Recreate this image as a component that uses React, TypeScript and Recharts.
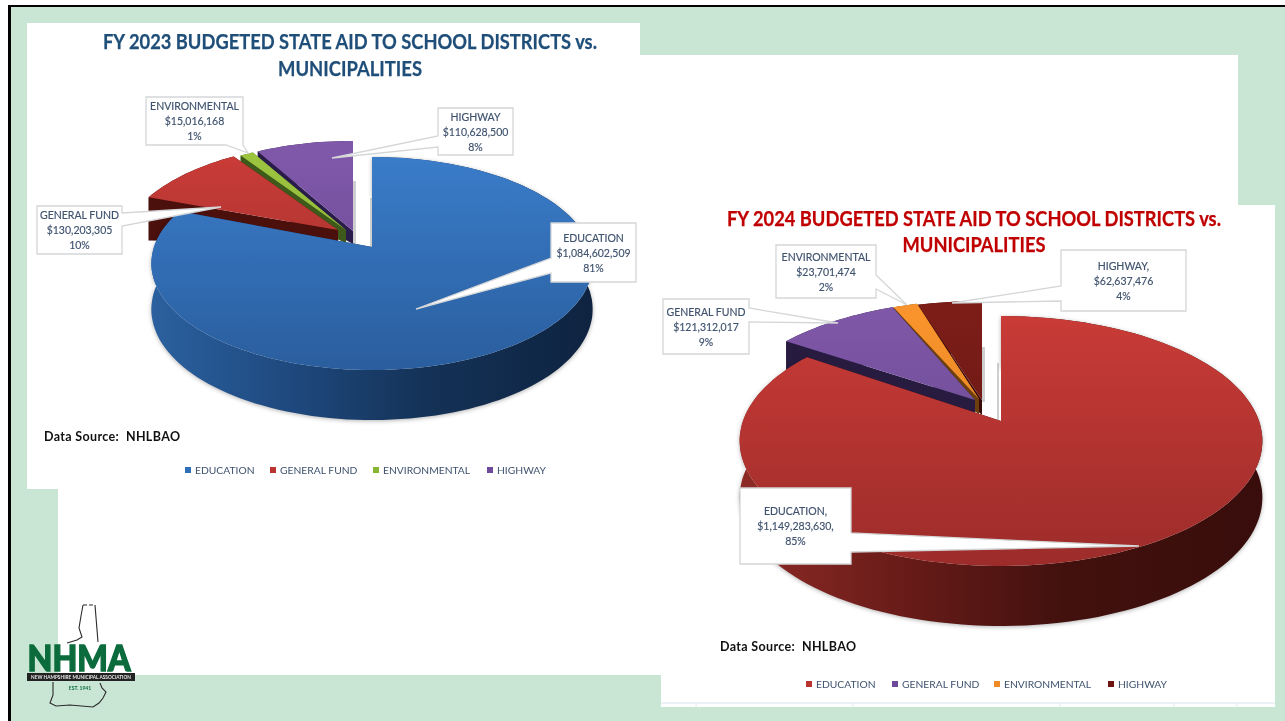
import React from "react";
import { PieChart, Pie, Legend } from "recharts";

const categories = ["EDUCATION", "GENERAL FUND", "ENVIRONMENTAL", "HIGHWAY"];
const values2023 = [1084602509, 130203305, 15016168, 110628500];
const values2024 = [1149283630, 121312017, 23701474, 62637476];
const nameLabels2023 = ["EDUCATION", "GENERAL FUND", "ENVIRONMENTAL", "HIGHWAY"];
const nameLabels2024 = ["EDUCATION,", "GENERAL FUND", "ENVIRONMENTAL", "HIGHWAY,"];
const valueLabels2023 = ["$1,084,602,509", "$130,203,305", "$15,016,168", "$110,628,500"];
const valueLabels2024 = ["$1,149,283,630,", "$121,312,017", "$23,701,474", "$62,637,476"];
const percentLabels2023 = ["81%", "10%", "1%", "8%"];
const percentLabels2024 = ["85%", "9%", "2%", "4%"];
const legendColors2023 = ["#2e6fb7", "#bb3330", "#8ab436", "#6f4a9a"];
const legendColors2024 = ["#bb3330", "#6f4a9a", "#f08a24", "#6e1512"];

type Style = { top: [string, string]; face: string };
const styles2023: Style[] = [
  { top: ["#3a7cc9", "#2a5e9e"], face: "#10294a" },
  { top: ["#c93b37", "#96302c"], face: "#4b0f0c" },
  { top: ["#9cc43f", "#86ad35"], face: "#3d5a1a" },
  { top: ["#8058aa", "#62458a"], face: "#2a1c4a" },
];
const styles2024: Style[] = [
  { top: ["#c93b37", "#9c2c2a"], face: "#3a0c0a" },
  { top: ["#7f57a8", "#5f4488"], face: "#281b40" },
  { top: ["#f9942c", "#d67a20"], face: "#6e3f0e" },
  { top: ["#7c1d18", "#611512"], face: "#3a0a08" },
];

const chart2023 = {
  id: "a", origin: [27, 23], size: [613, 466], apex: [372, 247], radius: 218,
  aspect: 0.477, k: 0.155, d0: 45, d1: 5, dApex: 13,
  offsets: [[0, 0], [-31, -14], [-24, -15], [-19, -16]],
  apexAdj: [[0, 0], [-3, -3], [-2, -2], [0, 0]],
  styles: styles2023,
  wall: ["#2b619f", "#1f4a80", "#143257", "#0e2340"],
  names: nameLabels2023, valueText: valueLabels2023, pct: percentLabels2023,
  colors: legendColors2023, values: values2023,
  strips: [[3, 353, 181, 3, 64], [0, 370, 198, 2, 50]],
  boxes: [
    { x: 551, y: 223, w: 85, h: 59, tip: [416, 309], side: "left", a: 258, b: 273 },
    { x: 37, y: 206, w: 85, h: 48, tip: [221, 207], side: "right", a: 213, b: 226 },
    { x: 146, y: 97, w: 97, h: 48, tip: [248, 153], side: "bottom", a: 226, b: 243 },
    { x: 438, y: 108, w: 75, h: 47, tip: [332, 158], side: "left", a: 136, b: 147 },
  ],
  legendX: [185, 270, 373, 487], legendY: 470,
};
const chart2024 = {
  id: "b", origin: [661, 205], size: [614, 502], apex: [1001, 421], radius: 258,
  aspect: 0.472, k: 0.16, d0: 56, d1: 4, dApex: 15,
  offsets: [[0, 0], [-21, -16], [-20, -16], [-19, -15]],
  apexAdj: [[0, 0], [-5, -5], [-2, -6], [0, -6]],
  styles: styles2024,
  wall: ["#8f2b27", "#6a1c19", "#42110e", "#380d0b"],
  names: nameLabels2024, valueText: valueLabels2024, pct: percentLabels2024,
  colors: legendColors2024, values: values2024,
  strips: [[3, 982, 347, 3, 55], [0, 997, 363, 2, 58]],
  boxes: [
    { x: 740, y: 488, w: 111, h: 76, tip: [1139, 546], side: "right", a: 533, b: 552 },
    { x: 663, y: 299, w: 86, h: 55, tip: [838, 323], side: "right", a: 308, b: 322 },
    { x: 776, y: 245, w: 100, h: 53, tip: [907, 305], side: "right", a: 275, b: 289 },
    { x: 1061, y: 250, w: 125, h: 61, tip: [952, 303], side: "left", a: 286, b: 301 },
  ],
  legendX: [806, 892, 994, 1108], legendY: 684,
};
type Cfg = typeof chart2023;

const FONT = "Lato, 'Open Sans', sans-serif";
const LABEL = "#3f526e";

const calloutPath = (b: Cfg["boxes"][number]) => {
  const { x, y, w, h, tip, side, a } = b;
  const R = x + w, B = y + h;
  const t = `${tip[0]},${tip[1]}`;
  let s = `M${x},${y} L${R},${y} `;
  if (side === "right") s += `L${R},${a} L${t} L${R},${b.b} `;
  s += `L${R},${B} `;
  if (side === "bottom") s += `L${b.b},${B} L${t} L${a},${B} `;
  s += `L${x},${B} `;
  if (side === "left") s += `L${x},${b.b} L${t} L${x},${a} `;
  return s + "Z";
};

const makeShape = (cfg: Cfg) => (props: any) => {
  const { cx, cy, outerRadius, startAngle, endAngle } = props;
  const i = categories.indexOf(props.name ?? props.payload?.name);
  const [ox, oy] = cfg.offsets[i];
  const st = cfg.styles[i];
  const ax = cx + ox, ay = cy + oy;
  const pt = (angle: number, deep: boolean) => {
    const th = ((90 - angle) * Math.PI) / 180;
    const u = Math.sin(th), v = Math.cos(th);
    const den = 1 + cfg.k * v;
    const x = ax + (outerRadius * u) / den;
    const y = ay - (outerRadius * cfg.aspect * v) / den;
    return [x, deep ? y + cfg.d0 - cfg.d1 * v : y];
  };
  const n = Math.max(2, Math.ceil(Math.abs(endAngle - startAngle) / 2));
  const angles = Array.from({ length: n + 1 }, (_, k) => startAngle + ((endAngle - startAngle) * k) / n);
  const top = angles.map((a) => pt(a, false));
  const low = angles.map((a) => pt(a, true));
  const P = (arr: number[][]) => arr.map((p) => p.map((c) => c.toFixed(1)).join(",")).join(" ");
  const apexTop = [ax + cfg.apexAdj[i][0], ay + cfg.apexAdj[i][1]];
  const apexLow = [apexTop[0], apexTop[1] + cfg.dApex];
  const yTop = cy - outerRadius * cfg.aspect / (1 + cfg.k);
  const yBot = cy + outerRadius * cfg.aspect / (1 - cfg.k);
  const topId = `top-${cfg.id}-${i}`;
  const wallId = `wall-${cfg.id}-${i}`;
  const xL = cx - outerRadius * 1.02, xR = cx + outerRadius * 1.02;
  const [ox0, oy0] = cfg.origin;
  return (
    <g>
      <defs>
        <linearGradient id={topId} gradientUnits="userSpaceOnUse" x1="0" x2="0" y1={yTop} y2={yBot}>
          <stop offset="0" stopColor={st.top[0]} />
          <stop offset="1" stopColor={st.top[1]} />
        </linearGradient>
        <linearGradient id={wallId} gradientUnits="userSpaceOnUse" x1={xL} x2={xR} y1="0" y2="0">
          <stop offset="0" stopColor={cfg.wall[0]} />
          <stop offset="0.3" stopColor={cfg.wall[1]} />
          <stop offset="0.62" stopColor={cfg.wall[2]} />
          <stop offset="1" stopColor={cfg.wall[3]} />
        </linearGradient>
      </defs>
      {cfg.strips.filter((s) => s[0] === i).map((s, k) => (
        <rect key={k} x={s[1] - ox0} y={s[2] - oy0} width={s[3]} height={s[4]} fill="#cfcfcf" />
      ))}
      <polygon points={P([apexTop, top[0], low[0], apexLow])} fill={st.face} />
      <polygon points={P([apexTop, top[n], low[n], apexLow])} fill={st.face} />
      <polygon
        points={P([...top, ...low.slice().reverse()])}
        fill={i === 0 ? `url(#${wallId})` : st.face}
        style={i === 0 ? { filter: "drop-shadow(0 1px 2px rgba(0,0,0,.3))" } : undefined}
      />
      <polygon points={P([apexTop, ...top])} fill={`url(#${topId})`} />
    </g>
  );
};

const makeLabel = (cfg: Cfg, rows: any[]) => (props: any) => {
  const row = rows[props.index];
  const i = categories.indexOf(row.name);
  const b = cfg.boxes[i];
  const [ox, oy] = cfg.origin;
  const mx = b.x + b.w / 2, my = b.y + b.h / 2;
  const lines = [cfg.names[i], cfg.valueText[i], cfg.pct[i]];
  return (
    <g transform={`translate(${-ox},${-oy})`}>
      <path d={calloutPath(b)} fill="#fff" stroke="#d4d6d8" strokeWidth={1.3} />
      {lines.map((t, k) => (
        <text key={k} x={mx} y={my + (k - 1) * 15} textAnchor="middle" dominantBaseline="central"
          fontFamily={FONT} fontSize={10.5} fill={LABEL} stroke={LABEL} strokeWidth={0.15}>{t}</text>
      ))}
    </g>
  );
};

const makeLegend = (cfg: Cfg) => (props: any) => {
  const items = categories.map((c) => (props.payload || []).find((p: any) => p.value === c) || { value: c });
  return (
    <div style={{ position: "relative", width: cfg.size[0], height: 14 }}>
      {items.map((it: any, i: number) => (
        <div key={it.value} style={{ position: "absolute", left: cfg.legendX[i] - cfg.origin[0], top: 0, display: "flex", alignItems: "center", height: 14, whiteSpace: "nowrap" }}>
          <span style={{ width: 6, height: 6, background: cfg.colors[i], marginRight: 4 }} />
          <span style={{ font: `10.3px ${FONT}`, color: LABEL }}>{it.value}</span>
        </div>
      ))}
    </div>
  );
};

const ChartPanel = ({ cfg }: { cfg: Cfg }) => {
  const rows = categories.map((name, i) => ({ name, value: cfg.values[i], fill: cfg.colors[i] })).reverse();
  const [ox, oy] = cfg.origin;
  return (
    <div style={{ position: "absolute", left: ox, top: oy }}>
      <PieChart width={cfg.size[0]} height={cfg.size[1]} margin={{ top: 0, right: 0, bottom: 0, left: 0 }}>
        <Pie
          data={rows} dataKey="value" nameKey="name"
          cx={cfg.apex[0] - ox} cy={cfg.apex[1] - oy}
          outerRadius={cfg.radius} innerRadius={0}
          startAngle={90} endAngle={450}
          stroke="none" isAnimationActive={false}
          shape={makeShape(cfg)} label={makeLabel(cfg, rows)} labelLine={false}
        />
        <Legend content={makeLegend(cfg)} itemSorter={null as any}
          wrapperStyle={{ position: "absolute", left: 0, top: cfg.legendY - oy - 7, width: cfg.size[0], height: 14, bottom: "auto" }} />
      </PieChart>
    </div>
  );
};

const Rect = ({ x, y, w, h, c }: any) => (
  <div style={{ position: "absolute", left: x, top: y, width: w, height: h, background: c }} />
);

const gridTicks = [696, 853, 1060, 1174, 1237];

const Overlay = () => (
  <svg width={1285} height={721} style={{ position: "absolute", left: 0, top: 0, pointerEvents: "none" }}>
    <g fontFamily={FONT} fontWeight={700} fontSize={21} textAnchor="middle" strokeWidth={0.25}>
      <text x={350} y={49} fill="#1f4e79" stroke="#1f4e79" textLength={494} lengthAdjust="spacingAndGlyphs">FY 2023 BUDGETED STATE AID TO SCHOOL DISTRICTS vs.</text>
      <text x={350} y={76} fill="#1f4e79" stroke="#1f4e79" textLength={144} lengthAdjust="spacingAndGlyphs">MUNICIPALITIES</text>
      <text x={974} y={226} fill="#c00000" stroke="#c00000" textLength={494} lengthAdjust="spacingAndGlyphs">FY 2024 BUDGETED STATE AID TO SCHOOL DISTRICTS vs.</text>
      <text x={974} y={252} fill="#c00000" stroke="#c00000" textLength={143} lengthAdjust="spacingAndGlyphs">MUNICIPALITIES</text>
    </g>
    <g fontFamily={FONT} fontWeight={700} fontSize={12.5} fill="#111">
      <text x={44} y={441} textLength={136} lengthAdjust="spacing">Data Source:{"\u00a0\u00a0"}NHLBAO</text>
      <text x={720} y={651} textLength={136} lengthAdjust="spacing">Data Source:{"\u00a0\u00a0"}NHLBAO</text>
    </g>
    <line x1={661} x2={1275} y1={703} y2={703} stroke="#e6ecf5" strokeWidth={1.5} />
    {gridTicks.map((x) => <line key={x} x1={x} x2={x} y1={703} y2={707} stroke="#e0e6ef" />)}
    {/* NHMA logo */}
    <g fill="none" stroke="#2a2a2a" strokeWidth={1.1}>
      <path d="M95,605 L98,642" />
      <path d="M83,605 L95,605" strokeDasharray="4 2" />
      <path d="M83,605 L81,616 L79,628 L82,637 L77,640 L67,643" />
      <path d="M53,682 L53,695 L50,703 L56,706 L70,705 L93,707 L99,703 L103,698 L106,692 L102,688 L100,683" />
    </g>
    <text x={79} y={671} textAnchor="middle" fontFamily={FONT} fontWeight={900} fontSize={36} fill="#0b6b3c" stroke="#0b6b3c" strokeWidth={1.4} textLength={103} lengthAdjust="spacingAndGlyphs">NHMA</text>
    <rect x={27} y={673} width={108} height={8} fill="#222" />
    <text x={81} y={679} textAnchor="middle" fontFamily={FONT} fontWeight={700} fontSize={5} fill="#e8e8e8" textLength={100} lengthAdjust="spacingAndGlyphs">NEW HAMPSHIRE MUNICIPAL ASSOCIATION</text>
    <text x={80} y={690} textAnchor="middle" fontFamily={FONT} fontWeight={700} fontSize={5} fill="#0b6b3c">EST. 1941</text>
  </svg>
);

export default function App() {
  return (
    <div style={{ position: "absolute", left: 0, top: 0, width: 1285, height: 721, overflow: "hidden", background: "#c9e6d4", filter: "blur(0.35px)" }}>
      <Rect x={0} y={0} w={1285} h={5} c="#ffffff" />
      <Rect x={0} y={0} w={8} h={721} c="#ffffff" />
      <Rect x={8} y={5} w={1277} h={2} c="#000000" />
      <Rect x={8} y={5} w={3} h={716} c="#000000" />
      <Rect x={58} y={55} w={1180} h={620} c="#ffffff" />
      <Rect x={27} y={23} w={613} h={466} c="#ffffff" />
      <Rect x={661} y={205} w={614} h={502} c="#ffffff" />
      <ChartPanel cfg={chart2023} />
      <ChartPanel cfg={chart2024} />
      <Overlay />
    </div>
  );
}
